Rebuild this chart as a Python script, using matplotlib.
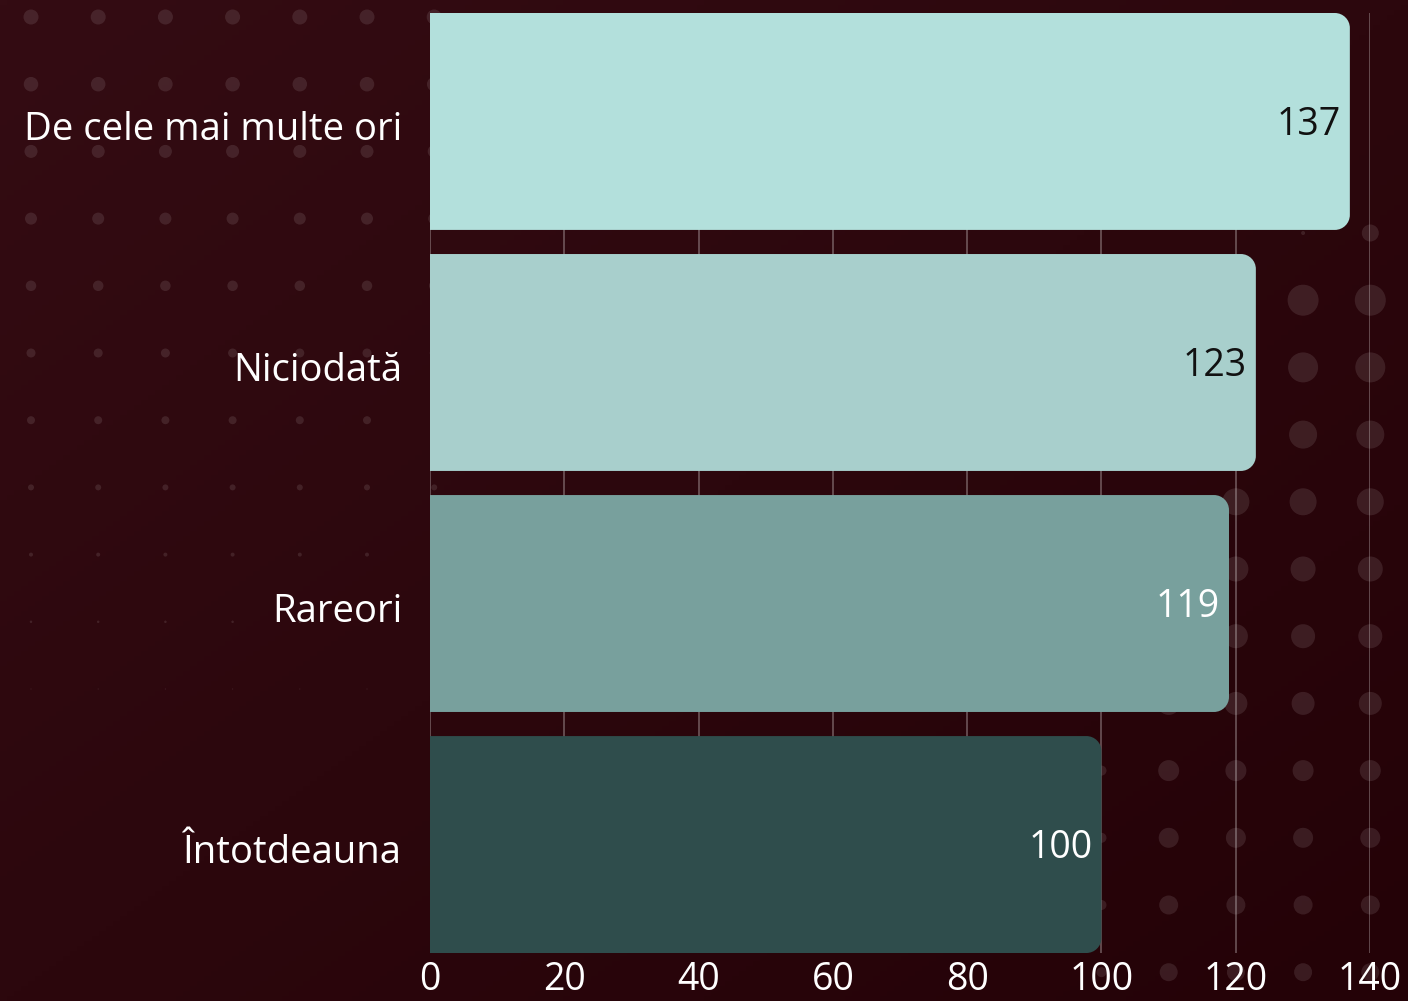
import numpy as np
import matplotlib
matplotlib.use("Agg")
import matplotlib.pyplot as plt
import matplotlib.transforms as mtransforms
from matplotlib.path import Path
from matplotlib.patches import PathPatch

# ---------------- data ----------------
categories = ["De cele mai multe ori", "Niciodată", "Rareori", "Întotdeauna"]
values = [137, 123, 119, 100]
bar_colors = ["#b3e0dc", "#a8cfcc", "#78a09d", "#2f4d4c"]
label_colors = ["#111111", "#111111", "#ffffff", "#ffffff"]
xticks = [0, 20, 40, 60, 80, 100, 120, 140]

FONT = "Open Sans"
W, H, DPI = 1408, 1001, 100

fig = plt.figure(figsize=(W / DPI, H / DPI), dpi=DPI, facecolor="#2c0810")

# ---------------- background (gradient + decorative dots) ----------------
bg = fig.add_axes([0, 0, 1, 1], zorder=-10)
bg.set_xlim(0, W)
bg.set_ylim(H, 0)
bg.axis("off")
gx = np.linspace(0, 1, 200)
gy = np.linspace(0, 1, 200)
GX, GY = np.meshgrid(gx, gy)
t = np.clip((GX + GY) / 2, 0, 1)[..., None]
c0 = np.array([52, 12, 19]) / 255
c1 = np.array([36, 2, 7]) / 255
img = c0 * (1 - t) + c1 * t
bg.imshow(img, extent=[0, W, H, 0], aspect="auto", zorder=0)

dx, dy, ds = [], [], []
# top-left halftone block (sizes shrink downward)
left_cols = [31 + 67.2 * i for i in range(7)]
left_diam = [15, 14.5, 13, 12, 10.5, 9, 8, 6, 4, 2.5, 1.2]
for j, d in enumerate(left_diam):
    y = 17 + 67.2 * j
    for x in left_cols:
        dx.append(x); dy.append(y); ds.append(d)
# bottom-right halftone block
right_cols = [1101.5 + 67.2 * i for i in range(5)]
right_diam = [17, 31, 30, 28, 27, 25, 24, 23, 21, 20, 19, 18]
for j, d in enumerate(right_diam):
    y = 233 + 67.2 * j
    for i, x in enumerate(right_cols):
        if j == 0:
            if i == 3:
                dx.append(x); dy.append(y); ds.append(4)
            elif i == 4:
                dx.append(x); dy.append(y); ds.append(d)
            continue
        if i == 0 and j < 8:
            continue
        if i == 1 and j < 7:
            continue
        if i == 2 and j < 4:
            continue
        dd = 10 if i == 0 else d
        dx.append(x); dy.append(y); ds.append(dd)
ds = np.array(ds) * 72 / DPI
bg.scatter(dx, dy, s=ds ** 2, color="white", alpha=0.10, linewidths=0, zorder=1)

# ---------------- main axes ----------------
L, R, T, B = 430, 1370, 13, 953
ax = fig.add_axes([L / W, 1 - B / H, (R - L) / W, (B - T) / H])
ax.set_facecolor("none")

bar_h = 0.9
ypos = np.arange(len(categories))
bars = ax.barh(ypos, values, height=bar_h, color=bar_colors)
ax.set_xlim(0, 140)
ax.set_ylim(len(categories) - 1 + bar_h / 2, -bar_h / 2)

# replace bars by right-rounded shapes
r_px = 15
rx = r_px * 140 / (R - L)
ry = r_px * (len(categories) - 1 + bar_h) / (B - T)
k = 0.5523
for rect, col in zip(bars, bar_colors):
    x0, y0 = rect.get_x(), rect.get_y()
    x1, y1 = x0 + rect.get_width(), y0 + rect.get_height()
    verts = [(x0, y0), (x1 - rx, y0),
             (x1 - rx + k * rx, y0), (x1, y0 + ry - k * ry), (x1, y0 + ry),
             (x1, y1 - ry),
             (x1, y1 - ry + k * ry), (x1 - rx + k * rx, y1), (x1 - rx, y1),
             (x0, y1), (x0, y0)]
    codes = [Path.MOVETO, Path.LINETO,
             Path.CURVE4, Path.CURVE4, Path.CURVE4,
             Path.LINETO,
             Path.CURVE4, Path.CURVE4, Path.CURVE4,
             Path.LINETO, Path.CLOSEPOLY]
    rect.set_visible(False)
    ax.add_patch(PathPatch(Path(verts, codes), facecolor=col, edgecolor="none", zorder=3))

# grid
for xv in xticks:
    ax.axvline(xv, color="#ffffff", alpha=0.32, lw=1.2, zorder=1)

# value labels
for yv, v, lc in zip(ypos, values, label_colors):
    ax.annotate(str(v), xy=(v, yv), xytext=(-6.5, -2.5), textcoords="offset points",
                ha="right", va="center", color=lc, fontsize=27, family=FONT, zorder=5)

ax.set_yticks(ypos)
ax.set_yticklabels(categories, fontsize=27.5, family=FONT, color="white")
ax.set_xticks(xticks)
ax.set_xticklabels([str(x) for x in xticks], fontsize=27, family=FONT, color="white")
ax.tick_params(axis="both", length=0)
ax.tick_params(axis="y", pad=20)
ax.tick_params(axis="x", pad=6)
for s in ax.spines.values():
    s.set_visible(False)

shift = mtransforms.ScaledTranslation(0, -3 / 72, fig.dpi_scale_trans)
for lbl in ax.get_yticklabels():
    lbl.set_transform(lbl.get_transform() + shift)

fig.savefig("out.png", dpi=DPI, facecolor=fig.get_facecolor())
